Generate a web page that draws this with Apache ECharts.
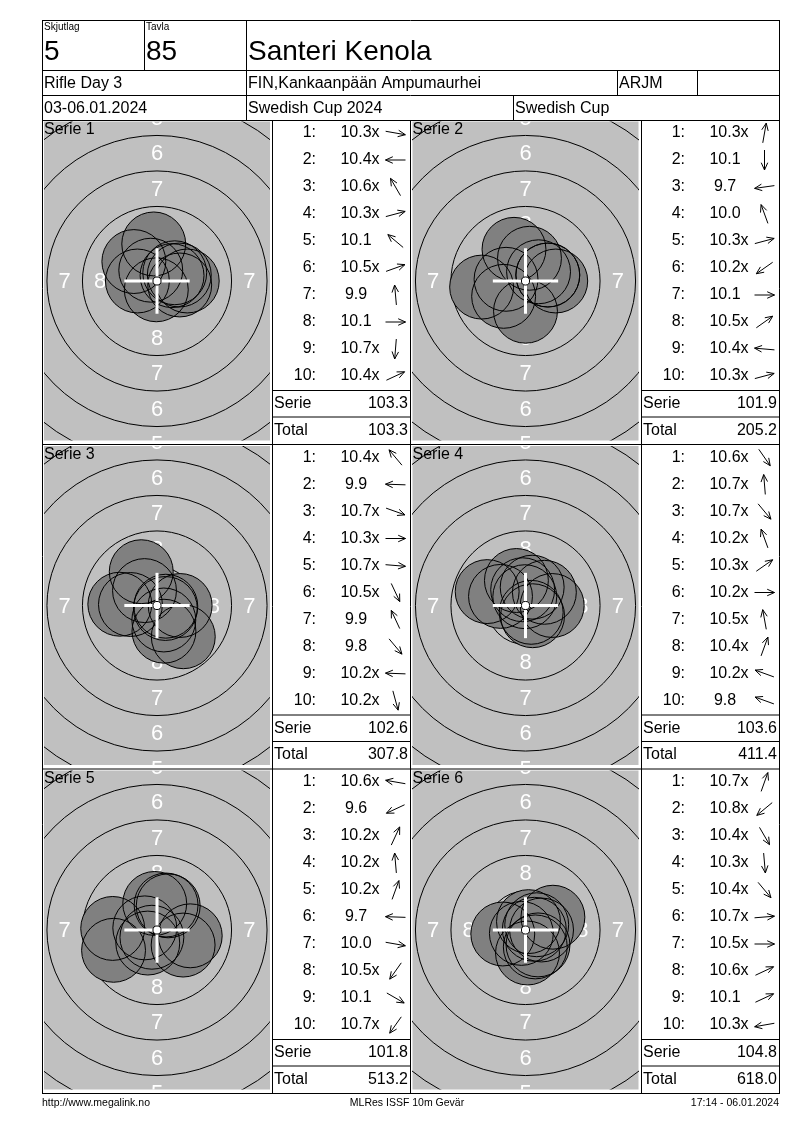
<!DOCTYPE html>
<html><head><meta charset="utf-8">
<script src="https://cdn.jsdelivr.net/npm/echarts@6/dist/echarts.min.js"></script>
<style>html,body{margin:0;padding:0;background:#fff}#c{width:800px;height:1130px}</style>
</head><body><div id="c"></div>
<script>
// ---------- data ----------
const serieNames = ['Serie 1','Serie 2','Serie 3','Serie 4','Serie 5','Serie 6'];
const scoresS1 = ['10.3x','10.4x','10.6x','10.3x','10.1','10.5x','9.9','10.1','10.7x','10.4x'];
const scoresS2 = ['10.3x','10.1','9.7','10.0','10.3x','10.2x','10.1','10.5x','10.4x','10.3x'];
const scoresS3 = ['10.4x','9.9','10.7x','10.3x','10.7x','10.5x','9.9','9.8','10.2x','10.2x'];
const scoresS4 = ['10.6x','10.7x','10.7x','10.2x','10.3x','10.2x','10.5x','10.4x','10.2x','9.8'];
const scoresS5 = ['10.6x','9.6','10.2x','10.2x','10.2x','9.7','10.0','10.5x','10.1','10.7x'];
const scoresS6 = ['10.7x','10.8x','10.4x','10.3x','10.4x','10.7x','10.5x','10.6x','10.1','10.3x'];
// shot positions in mm from target centre (x right, y up)
const shotsS1 = [[1.60,-0.28],[-1.38,0.00],[-0.44,0.76],[1.57,0.42],[-1.63,1.37],[1.06,0.38],[-0.23,2.61],[2.13,0.00],[-0.05,-0.62],[1.25,0.58]];
const shotsS2 = [[0.28,1.60],[0.00,-2.13],[-3.09,-0.43],[-0.81,2.23],[1.57,0.42],[-1.54,-1.08],[2.13,0.00],[0.92,0.65],[-1.37,0.12],[1.57,0.42]];
const shotsS3 = [[-0.88,1.05],[-2.62,0.09],[0.59,-0.21],[1.63,0.00],[0.62,-0.05],[0.48,-1.02],[-1.11,2.38],[1.85,-2.20],[-1.87,0.07],[0.49,-1.81]];
const shotsS4 = [[0.50,-0.72],[-0.05,0.62],[0.40,-0.48],[-0.64,1.76],[1.33,0.93],[1.88,0.00],[-0.20,1.11],[0.47,1.29],[-1.76,0.64],[-2.70,0.98]];
const shotsS5 = [[-0.86,0.15],[-3.06,-1.43],[0.79,1.70],[-0.16,1.87],[0.64,1.76],[-3.12,0.11],[2.34,-0.41],[-0.65,-0.92],[1.84,-1.06],[-0.36,-0.51]];
const shotsS6 = [[0.21,0.59],[-0.29,-0.24],[0.69,-1.19],[0.14,-1.62],[0.88,-1.05],[0.62,0.05],[1.13,0.00],[0.79,0.37],[1.93,0.90],[-1.60,-0.28]];
const serieSums = ['103.3','101.9','102.6','103.6','101.8','104.8'];
const runningTotals = ['103.3','205.2','307.8','411.4','513.2','618.0'];
// target geometry (10m air rifle, mm)
const ringRadii = [2.75, 5.25, 7.75, 10.25, 12.75, 15.25];
const ringLabels = [8, 7, 6, 5];
const ringLabelRadii = [4.0, 6.5, 9.0, 11.5];
const pelletRadius = 2.25;
const tenDotRadius = 0.25;
// header texts
const headerSmall = ['Skjutlag', 'Tavla'];
const headerBig = ['5', '85', 'Santeri Kenola'];
const headerRow2 = ['Rifle Day 3', 'FIN,Kankaanpään Ampumaurhei', 'ARJM'];
const headerRow3 = ['03-06.01.2024', 'Swedish Cup 2024', 'Swedish Cup'];
const footer = ['http://www.megalink.no', 'MLRes ISSF 10m Gevär', '17:14 - 06.01.2024'];

const allScores = [scoresS1, scoresS2, scoresS3, scoresS4, scoresS5, scoresS6];
const allShots = [shotsS1, shotsS2, shotsS3, shotsS4, shotsS5, shotsS6];

// ---------- layout ----------
const FONT = '"Liberation Sans", Arial, sans-serif';
const PX = 14.2; // px per mm
const cols = [{gray: 44, table: 272, tableR: 410}, {gray: 412.5, table: 641, tableR: 779}];
const rowTops = [120, 444.5, 769];
const GW = 226, GH = 319;

const measureCtx = document.createElement('canvas').getContext('2d');
function textW(t, size) { measureCtx.font = size + 'px ' + FONT; return measureCtx.measureText(t).width; }

function txt(text, x, y, size, align, valign, fill, extra) {
  return Object.assign({
    type: 'text', x: x, y: y, z: 100, silent: true,
    style: { text: text, font: size + 'px ' + FONT, fill: fill || '#000',
      align: align, verticalAlign: valign, textAlign: align, textVerticalAlign: valign }
  }, extra || {});
}
function ln(x1, y1, x2, y2, w) {
  return { type: 'line', z: 100, silent: true, shape: {x1, y1, x2, y2}, style: {stroke: '#000', lineWidth: w || 1} };
}

const grids = [], xAxes = [], yAxes = [], series = [], graphics = [];

for (let k = 0; k < 6; k++) {
  const col = cols[k % 2], top = rowTops[Math.floor(k / 2)];
  grids.push({ left: col.gray, top: top + 1.5, width: GW, height: GH, show: true,
    backgroundColor: '#c0c0c0', borderWidth: 0 });
  xAxes.push({ type: 'value', gridIndex: k, min: -GW / 2 / PX, max: GW / 2 / PX, show: false });
  yAxes.push({ type: 'value', gridIndex: k, min: -GH / 2 / PX, max: GH / 2 / PX, show: false });
  const base = { type: 'custom', xAxisIndex: k, yAxisIndex: k, clip: true, silent: true, animation: false };
  // rings
  series.push(Object.assign({}, base, {
    data: ringRadii.map(r => [r, 0]),
    renderItem: (p, api) => {
      const c = api.coord([0, 0]); const r = api.size([api.value(0), 0])[0];
      return { type: 'circle', shape: {cx: c[0], cy: c[1], r: r}, style: {fill: 'none', stroke: '#000', lineWidth: 1} };
    }
  }));
  // ring numbers
  const lab = [];
  ringLabels.forEach((n, i) => {
    const r = ringLabelRadii[i];
    lab.push([0, r, n], [0, -r, n], [-r, 0, n], [r, 0, n]);
  });
  series.push(Object.assign({}, base, {
    data: lab,
    renderItem: (p, api) => {
      const c = api.coord([api.value(0), api.value(1)]);
      return { type: 'text', x: c[0], y: c[1] + 1, style: { text: String(api.value(2)), font: '22px ' + FONT,
        fill: '#fff', align: 'center', verticalAlign: 'middle', textAlign: 'center', textVerticalAlign: 'middle' } };
    }
  }));
  // shot fills
  series.push(Object.assign({}, base, {
    data: allShots[k],
    renderItem: (p, api) => {
      const c = api.coord([api.value(0), api.value(1)]); const r = api.size([pelletRadius, 0])[0];
      return { type: 'circle', shape: {cx: c[0], cy: c[1], r: r}, style: {fill: '#808080', stroke: 'none'} };
    }
  }));
  // shot outlines
  series.push(Object.assign({}, base, {
    data: allShots[k],
    renderItem: (p, api) => {
      const c = api.coord([api.value(0), api.value(1)]); const r = api.size([pelletRadius, 0])[0];
      return { type: 'circle', shape: {cx: c[0], cy: c[1], r: r}, style: {fill: 'none', stroke: '#000', lineWidth: 1} };
    }
  }));
  // centre cross + ten dot
  series.push(Object.assign({}, base, {
    data: [[0, 0]],
    renderItem: (p, api) => {
      const c = api.coord([0, 0]); const a = api.size([2.3, 0])[0]; const d = api.size([tenDotRadius, 0])[0];
      return { type: 'group', children: [
        { type: 'line', shape: {x1: c[0] - a, y1: c[1], x2: c[0] + a, y2: c[1]}, style: {stroke: '#fff', lineWidth: 3} },
        { type: 'line', shape: {x1: c[0], y1: c[1] - a, x2: c[0], y2: c[1] + a}, style: {stroke: '#fff', lineWidth: 3} },
        { type: 'circle', shape: {cx: c[0], cy: c[1], r: d + 0.5}, style: {fill: '#fff', stroke: '#000', lineWidth: 1} }
      ]};
    }
  }));
  // serie title
  graphics.push(txt(serieNames[k], col.gray, top + 2, 16, 'left', 'top'));
  // table
  const L = col.table, R = col.tableR;
  allScores[k].forEach((s, i) => {
    const y = top + 13 + 27 * i;
    graphics.push(txt((i + 1) + ':', L + 44, y, 16, 'right', 'middle'));
    const num = s.replace('x', '');
    graphics.push(txt(num, L + 84, y, 16, 'center', 'middle'));
    if (s.indexOf('x') >= 0) graphics.push(txt('x', L + 84 + textW(num, 16) / 2, y, 16, 'left', 'middle'));
    // arrow showing shot direction
    const sh = allShots[k][i];
    const th = Math.atan2(sh[1], sh[0]);
    const ux = Math.cos(th), uy = -Math.sin(th);
    const cx = L + 123.5, hl = 10;
    const tx = cx + hl * ux, ty = y + hl * uy, bx = cx - hl * ux, by = y - hl * uy;
    const ang = 0.42, hs = 8;
    const vx = -ux, vy = -uy;
    const h1x = tx + hs * (vx * Math.cos(ang) - vy * Math.sin(ang)), h1y = ty + hs * (vx * Math.sin(ang) + vy * Math.cos(ang));
    const h2x = tx + hs * (vx * Math.cos(-ang) - vy * Math.sin(-ang)), h2y = ty + hs * (vx * Math.sin(-ang) + vy * Math.cos(-ang));
    graphics.push(ln(bx, by, tx, ty), ln(h1x, h1y, tx, ty), ln(h2x, h2y, tx, ty));
  });
  graphics.push(ln(L, top + 270.5, R, top + 270.5), ln(L, top + 297, R, top + 297));
  graphics.push(txt('Serie', L + 2, top + 284, 16, 'left', 'middle'), txt(serieSums[k], R - 2, top + 284, 16, 'right', 'middle'));
  graphics.push(txt('Total', L + 2, top + 310.5, 16, 'left', 'middle'), txt(runningTotals[k], R - 2, top + 310.5, 16, 'right', 'middle'));
}

// frame lines
graphics.push(
  ln(42, 20.5, 779, 20.5), ln(42.5, 20, 42.5, 1093), ln(779.5, 20, 779.5, 1093), ln(42, 1093.5, 780, 1093.5),
  ln(42, 70.5, 779, 70.5), ln(42, 95.5, 779, 95.5), ln(42, 120.5, 779, 120.5),
  ln(144.5, 20, 144.5, 70), ln(246.5, 20, 246.5, 120), ln(617.5, 70, 617.5, 95), ln(697.5, 70, 697.5, 95), ln(513.5, 95, 513.5, 120),
  ln(42, 444.5, 779, 444.5), ln(42, 769, 779, 769),
  ln(272.5, 120, 272.5, 1093), ln(410.5, 120, 410.5, 1093), ln(641.5, 120, 641.5, 1093)
);
// header text
graphics.push(
  txt(headerSmall[0], 44, 22, 10, 'left', 'top'), txt(headerSmall[1], 146, 22, 10, 'left', 'top'),
  txt(headerBig[0], 44, 52, 28, 'left', 'middle'), txt(headerBig[1], 146, 52, 28, 'left', 'middle'),
  txt(headerBig[2], 248, 52, 28, 'left', 'middle'),
  txt(headerRow2[0], 44, 84, 16, 'left', 'middle'), txt(headerRow2[1], 248, 84, 16, 'left', 'middle'), txt(headerRow2[2], 619, 84, 16, 'left', 'middle'),
  txt(headerRow3[0], 44, 109, 16, 'left', 'middle'), txt(headerRow3[1], 248, 109, 16, 'left', 'middle'), txt(headerRow3[2], 515, 109, 16, 'left', 'middle'),
  txt(footer[0], 42, 1103, 10.5, 'left', 'middle'), txt(footer[1], 407, 1103, 10.5, 'center', 'middle'), txt(footer[2], 779, 1103, 10.5, 'right', 'middle')
);

const chart = echarts.init(document.getElementById('c'), null, {renderer: 'canvas', width: 800, height: 1130});
chart.setOption({
  animation: false,
  backgroundColor: '#fff',
  grid: grids, xAxis: xAxes, yAxis: yAxes, series: series,
  graphic: { elements: graphics }
});
</script></body></html>
